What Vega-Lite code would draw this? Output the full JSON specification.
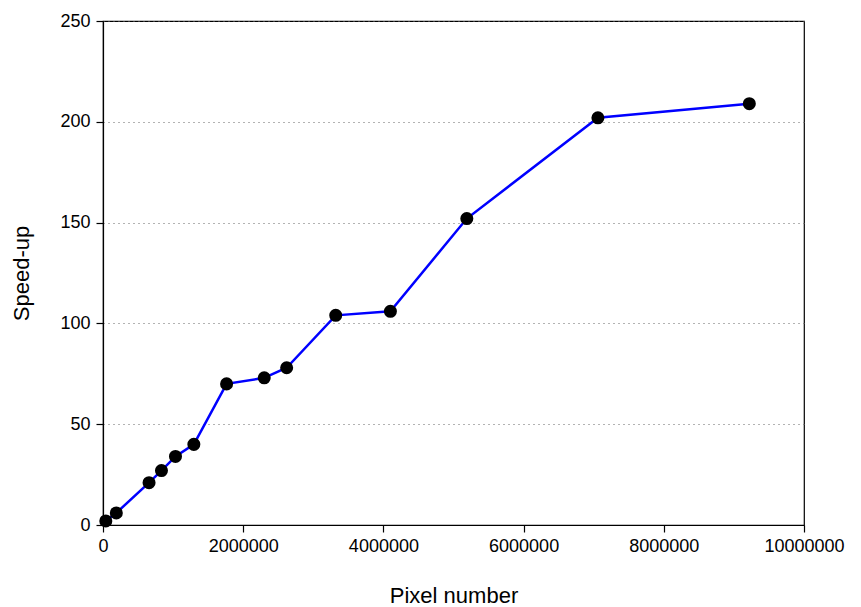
{
  "$schema": "https://vega.github.io/schema/vega-lite/v6.json",
  "width": 701,
  "height": 504,
  "autosize": {"type": "none"},
  "padding": {"left": 103, "top": 21, "right": 57, "bottom": 82},
  "background": "white",
  "config": {
    "view": {"stroke": "black", "strokeWidth": 1.2},
    "font": "Liberation Sans",
    "axis": {
      "domainColor": "black",
      "domainWidth": 1.2,
      "tickColor": "black",
      "tickWidth": 1.2,
      "tickSize": 7,
      "labelColor": "black",
      "labelFont": "Liberation Sans",
      "labelFontSize": 18,
      "titleFont": "Liberation Sans",
      "titleFontSize": 22,
      "titleFontWeight": "normal",
      "titleColor": "black"
    }
  },
  "data": {
    "values": [
      {"pixels": 40000, "speedup": 2},
      {"pixels": 190000, "speedup": 6},
      {"pixels": 657000, "speedup": 21},
      {"pixels": 834000, "speedup": 27},
      {"pixels": 1034000, "speedup": 34},
      {"pixels": 1296000, "speedup": 40},
      {"pixels": 1763000, "speedup": 70},
      {"pixels": 2300000, "speedup": 73},
      {"pixels": 2620000, "speedup": 78},
      {"pixels": 3320000, "speedup": 104},
      {"pixels": 4100000, "speedup": 106},
      {"pixels": 5190000, "speedup": 152},
      {"pixels": 7060000, "speedup": 202},
      {"pixels": 9220000, "speedup": 209}
    ]
  },
  "encoding": {
    "x": {
      "field": "pixels",
      "type": "quantitative",
      "scale": {"domain": [0, 10000000], "nice": false},
      "axis": {
        "title": "Pixel number",
        "values": [0, 2000000, 4000000, 6000000, 8000000, 10000000],
        "format": "d",
        "grid": false,
        "labelPadding": 5,
        "titlePadding": 30,
        "labelFlush": false
      }
    },
    "y": {
      "field": "speedup",
      "type": "quantitative",
      "scale": {"domain": [0, 250], "nice": false},
      "axis": {
        "title": "Speed-up",
        "values": [0, 50, 100, 150, 200, 250],
        "grid": true,
        "gridColor": "#666666",
        "gridDash": [1, 4],
        "gridWidth": 1,
        "labelPadding": 6,
        "titlePadding": 26,
        "labelFlush": false
      }
    }
  },
  "layer": [
    {"mark": {"type": "line", "color": "#0000ff", "strokeWidth": 2.5}},
    {"mark": {"type": "circle", "color": "black", "opacity": 1, "size": 170}}
  ]
}
